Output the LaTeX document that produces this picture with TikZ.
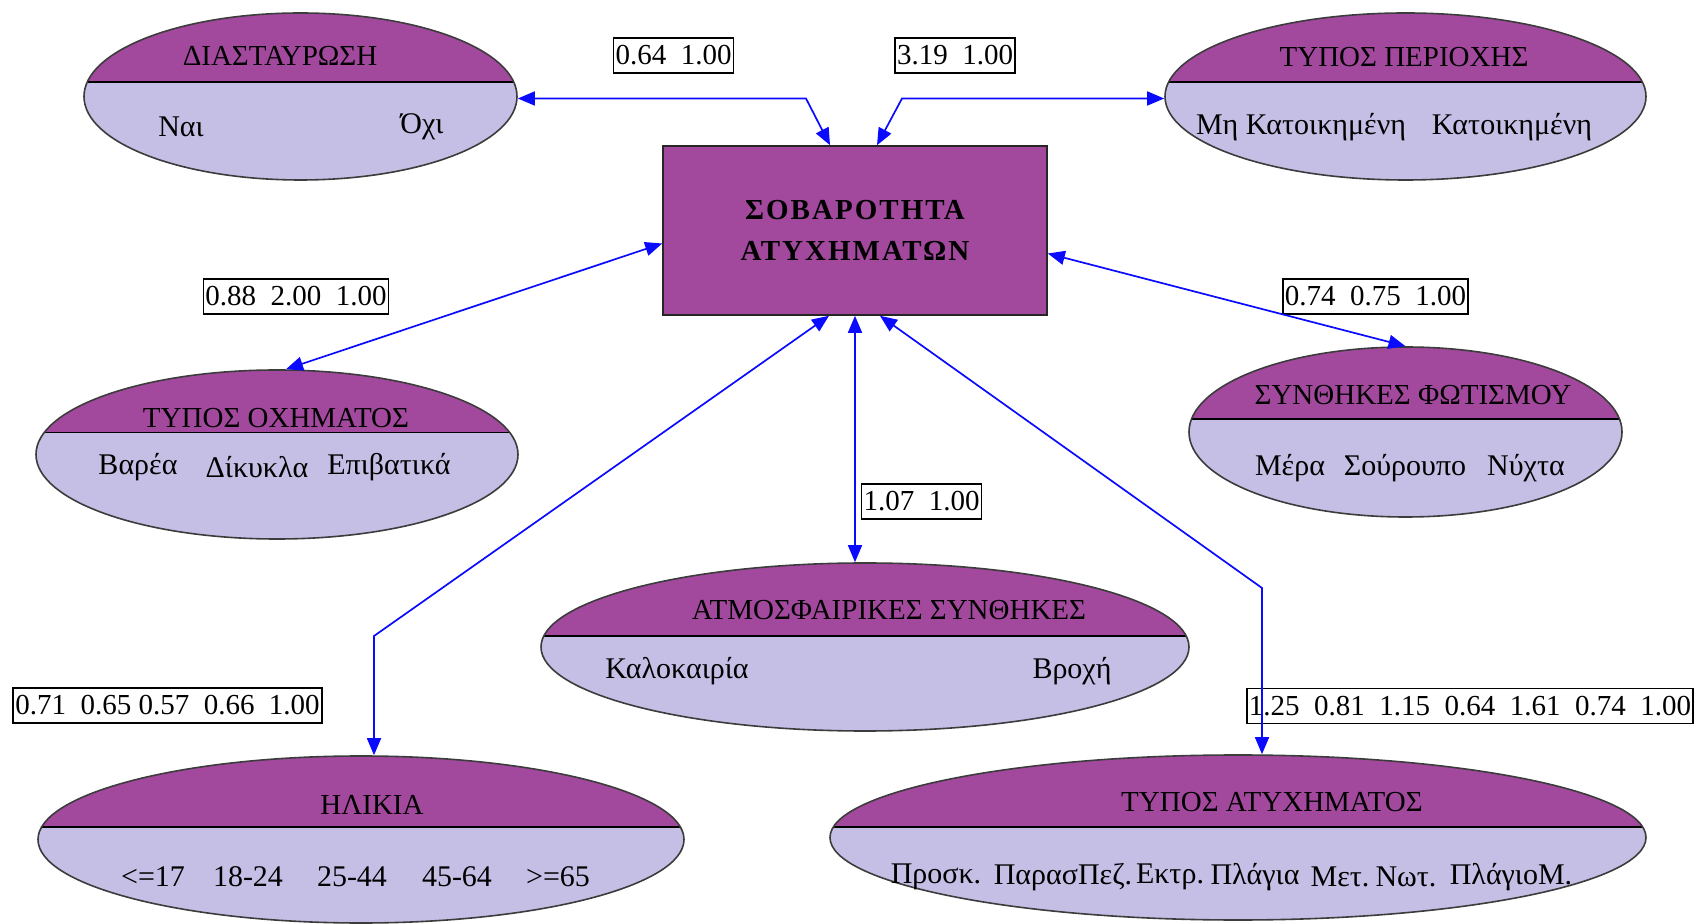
\documentclass[tikz,border=0pt]{standalone}
\usepackage{fontspec}
\setmainfont{Liberation Serif}
\newfontfamily\capsfont[LetterSpace=7]{Liberation Serif}
\usetikzlibrary{shapes.geometric,arrows.meta}
\definecolor{topc}{RGB}{162,73,158}
\definecolor{lowc}{RGB}{197,190,229}
\definecolor{rimc}{RGB}{60,60,60}
\definecolor{linkc}{RGB}{10,10,255}
\tikzset{
  varell/.style={ellipse, draw=rimc, line width=0.8pt, fill=lowc, inner sep=0pt,
    path picture={
      \fill[topc] ([yshift=#1]path picture bounding box.west) rectangle (path picture bounding box.north east);
      \draw[black, line width=0.8pt] ([yshift=#1]path picture bounding box.west) -- ([yshift=#1]path picture bounding box.east);}},
  ttl/.style={font=\fontsize{14.5}{16}\selectfont, inner sep=0pt},
  val/.style={font=\fontsize{15}{17}\selectfont, inner sep=0pt},
  coef/.style={draw=black, line width=0.8pt, font=\fontsize{14.5}{16}\selectfont,
    inner xsep=1pt, inner ysep=0pt, minimum height=17.5pt},
  link/.style={draw=linkc, line width=0.85pt,
    {Triangle[length=8.5pt,width=7pt]}-{Triangle[length=8.5pt,width=7pt]}},
}
\begin{document}
\begin{tikzpicture}[x=0.5pt, y=-0.5pt]
\useasboundingbox (0,0) rectangle (1698,924);

% central variable
\node[draw=black!85, line width=0.8pt, fill=topc, minimum width=192pt, minimum height=84.5pt,
  align=center, font=\capsfont\bfseries\fontsize{14.5}{20.5}\selectfont] (sev) at (855,230.5)
  {ΣΟΒΑΡΟΤΗΤΑ\\ΑΤΥΧΗΜΑΤΩΝ};

% factor variables
\node[varell=7.25pt, minimum width=216.5pt, minimum height=83.5pt] (dia) at (300.5,96.5) {};
\node[ttl] (dia-t) at (280,56) {ΔΙΑΣΤΑΥΡΩΣΗ};
\node[val] (dia-v1) at (181,127) {Ναι};
\node[val] (dia-v2) at (422,127) {Όχι};

\node[varell=7.25pt, minimum width=240.5pt, minimum height=83.5pt] (per) at (1405.5,96.5) {};
\node[ttl] (per-t) at (1404,57) {ΤΥΠΟΣ ΠΕΡΙΟΧΗΣ};
\node[val] (per-v1) at (1301,127) {Μη Κατοικημένη};
\node[val] (per-v2) at (1512,127) {Κατοικημένη};

\node[varell=11pt, minimum width=241pt, minimum height=84.5pt] (och) at (277,454.5) {};
\node[ttl] (och-t) at (276,418) {ΤΥΠΟΣ ΟΧΗΜΑΤΟΣ};
\node[val] (och-v1) at (138,467) {Βαρέα};
\node[val] (och-v2) at (257,467) {Δίκυκλα};
\node[val] (och-v3) at (389,467) {Επιβατικά};

\node[varell=6.5pt, minimum width=216.5pt, minimum height=85pt] (fot) at (1405.5,432) {};
\node[ttl] (fot-t) at (1413,395) {ΣΥΝΘΗΚΕΣ ΦΩΤΙΣΜΟΥ};
\node[val] (fot-v1) at (1290,468) {Μέρα};
\node[val] (fot-v2) at (1405,468) {Σούρουπο};
\node[val] (fot-v3) at (1526,468) {Νύχτα};

\node[varell=5.5pt, minimum width=324pt, minimum height=84pt] (atm) at (865,647) {};
\node[ttl] (atm-t) at (889,610) {ΑΤΜΟΣΦΑΙΡΙΚΕΣ ΣΥΝΘΗΚΕΣ};
\node[val] (atm-v1) at (677,671) {Καλοκαιρία};
\node[val] (atm-v2) at (1072,671) {Βροχή};

\node[varell=6.25pt, minimum width=323pt, minimum height=83.5pt] (hli) at (361,839.5) {};
\node[ttl] (hli-t) at (372,805) {ΗΛΙΚΙΑ};
\node[val] (hli-v1) at (153,877) {<=17};
\node[val] (hli-v2) at (248,877) {18-24};
\node[val] (hli-v3) at (352,877) {25-44};
\node[val] (hli-v4) at (457,877) {45-64};
\node[val] (hli-v5) at (558,877) {>=65};

\node[varell=5.25pt, minimum width=408pt, minimum height=82.5pt] (aty) at (1238,837.5) {};
\node[ttl] (aty-t) at (1272,802) {ΤΥΠΟΣ ΑΤΥΧΗΜΑΤΟΣ};
\node[val] (aty-v1) at (936,877) {Προσκ.};
\node[val] (aty-v2) at (1063,877) {ΠαρασΠεζ.};
\node[val] (aty-v3) at (1170,877) {Εκτρ.};
\node[val] (aty-v4) at (1255,877) {Πλάγια};
\node[val] (aty-v5) at (1340,877) {Μετ.};
\node[val] (aty-v6) at (1406,877) {Νωτ.};
\node[val] (aty-v7) at (1511,877) {ΠλάγιοΜ.};

% coefficient boxes
\node[coef] (lab1) at (673.5,55.5) {0.64\ \ 1.00};
\node[coef] (lab2) at (955,55.5) {3.19\ \ 1.00};
\node[coef] (lab3) at (296,296.5) {0.88\ \ 2.00\ \ 1.00};
\node[coef] (lab4) at (1375.5,296.5) {0.74\ \ 0.75\ \ 1.00};
\node[coef] (lab5) at (921.5,501.5) {1.07\ \ 1.00};
\node[coef] (lab6) at (167.5,705.5) {0.71\ \ 0.65 0.57\ \ 0.66\ \ 1.00};
\node[coef] (lab7) at (1470,706) {1.25\ \ 0.81\ \ 1.15\ \ 0.64\ \ 1.61\ \ 0.74\ \ 1.00};

% links
\coordinate (k1) at (806,98.5);
\coordinate (k2) at (902,98.5);
\coordinate (k6) at (374,636);
\coordinate (k7) at (1262,588);
\draw[link] ([yshift=-1pt]dia.east) -- (k1) -- ([xshift=-12.5pt]sev.north);
\draw[link] ([xshift=11pt]sev.north) -- (k2) -- ([yshift=-1pt]per.west);
\draw[link] ([xshift=4.5pt]och.north) -- ([yshift=-6.5pt]sev.west);
\draw[link] ([yshift=-11.5pt]sev.east) -- (fot.north);
\draw[link] (sev.south) -- (sev.south |- atm.north);
\draw[link] ([xshift=-13pt]sev.south) -- (k6) -- (k6 |- hli.north);
\draw[link] ([xshift=12.5pt]sev.south) -- (k7) -- (k7 |- aty.north);
\end{tikzpicture}
\end{document}
